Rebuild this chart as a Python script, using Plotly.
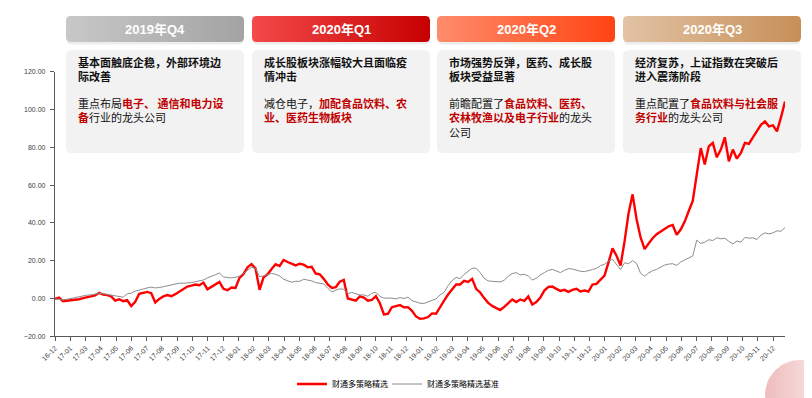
import numpy as np
import pandas as pd
import plotly.graph_objects as go

W, H = 812, 398          # browser window
P0 = 8                   # page body margin of the written html
FW, FH = W - P0, H - P0  # figure size so that the page does not overflow
START, END = "2016-12-01", "2020-12-31"

tick_labels = ["16-12", "17-01", "17-03", "17-04", "17-05", "17-06", "17-07", "17-08", "17-09", "17-10",
               "17-11", "17-12", "18-01", "18-02", "18-03", "18-04", "18-05", "18-06", "18-07", "18-08",
               "18-09", "18-10", "18-11", "18-12", "19-01", "19-02", "19-03", "19-04", "19-05", "19-06",
               "19-07", "19-08", "19-09", "19-10", "19-11", "19-12", "20-01", "20-02", "20-03", "20-04",
               "20-05", "20-06", "20-07", "20-08", "20-09", "20-10", "20-11", "20-12"]
y_ticks = [-20, 0, 20, 40, 60, 80, 100, 120]

series_names = ["财通多策略精选", "财通多策略精选基准"]

# cumulative return (%), evenly spaced in time
strategy = [
    -0.2, 0.5, -1.4, -1.2, -1.1, -0.7, -0.4, 0.2, 0.7, 1.2,
    1.6, 3.0, 2.1, 1.8, 1.1, -1.1, -0.4, -1.4, -0.9, -4.0,
    -1.8, 2.5, 3.2, 3.5, 2.8, -2.1, -0.2, 1.1, 1.8, 1.2,
    2.3, 3.5, 4.9, 6.3, 6.8, 7.4, 7.0, 8.4, 4.9, 6.3,
    7.4, 8.8, 5.1, 4.4, 5.8, 5.6, 10.9, 13.0, 16.5, 18.2,
    15.8, 4.6, 11.2, 12.8, 15.6, 18.1, 17.2, 20.4, 19.3, 18.4,
    17.5, 18.4, 17.9, 16.5, 16.8, 13.2, 12.8, 10.4,
    7.4, 5.6, 6.0, 8.9, 9.8, 0.0, -0.4, -1.1, 1.1, 0.5,
    -1.2, -0.7, 1.2, -2.5, -8.4, -8.1, -4.6, -4.2, -3.5, -4.7,
    -4.6, -6.5, -9.5, -10.7, -10.5, -9.8, -7.9, -8.1, -4.2, -1.1,
    2.1, 4.6, 7.4, 7.4, 9.3, 8.8, 10.4, 5.1, 3.2, 0.2,
    -2.3, -3.9, -5.1, -6.1, -4.4, -2.3, -0.5, -1.9, -0.5, -1.2,
    1.1, -3.2, -1.9, 0.5, 4.2, 6.1, 6.3, 5.1, 4.0, 4.6,
    3.5, 4.6, 5.1, 3.7,
    4.2, 3.7, 7.4, 7.7, 10.0, 12.1, 19.1, 26.5, 22.6, 17.4,
    30.2, 45.1, 55.1, 41.9, 32.3, 26.1, 29.1, 31.9, 34.0, 35.4,
    37.0, 38.2, 38.9, 33.7, 36.5, 40.7, 46.3, 51.6, 65.6, 79.6,
    70.9, 80.5, 82.3, 74.7, 78.8, 85.3, 72.6, 78.8, 74.0, 77.0,
    82.3, 81.8, 85.3, 88.4, 91.9, 93.7, 91.1, 91.6, 88.4, 95.8,
    104.2,
]
benchmark = [
    -0.2, -0.4, -0.7, -0.4, 0.0, 0.5, 1.1, 1.6, 1.8, 1.9,
    2.3, 2.8, 2.5, 2.1, 1.9, 1.6, 1.1, 0.7, 2.5, 2.8,
    3.9, 4.6, 5.1, 5.6, 6.0, 5.6, 5.8, 6.3, 6.7, 7.4,
    7.7, 8.1, 8.1, 8.2, 8.4, 8.9, 9.3, 9.8, 10.9, 11.6,
    12.6, 13.5, 11.4, 11.1, 10.9, 11.2, 11.9, 13.3, 15.1, 16.5,
    16.0, 11.6, 11.9, 12.8, 13.3, 12.8, 11.9, 10.2, 9.5, 8.6,
    9.1, 9.1, 10.2, 9.8, 9.3, 8.4, 8.1, 7.7,
    5.4, 3.5, 4.4, 5.1, 4.9, 2.6, 3.2, 2.6, 1.9, 1.9,
    1.2, 2.8, 3.3, 1.1, 0.2, 0.2, 0.2, -0.2, 0.5, 0.0,
    0.7, -1.1, -1.9, -2.5, -2.6, -1.8, -0.9, -0.2, 1.9, 3.2,
    6.8, 9.5, 11.2, 10.5, 12.8, 14.6, 16.0, 16.0, 13.7, 10.7,
    9.3, 9.1, 8.8, 8.8, 9.6, 11.8, 13.2, 13.7, 12.5, 12.8,
    11.9, 9.8, 10.7, 12.5, 13.7, 14.9, 15.4, 14.4, 13.7, 14.9,
    15.8, 15.6, 14.9, 14.4,
    14.2, 14.6, 15.3, 16.0, 17.4, 18.1, 19.8, 20.7, 18.2, 15.3,
    18.9, 18.4, 20.0, 18.6, 13.3, 11.8, 13.5, 14.7, 15.4, 16.5,
    17.7, 18.2, 18.4, 17.5, 19.3, 20.4, 21.4, 22.5, 30.9, 29.1,
    29.8, 31.1, 30.7, 32.1, 31.6, 31.9, 30.2, 28.9, 30.4, 29.8,
    32.3, 31.9, 32.1, 31.2, 33.5, 34.7, 34.2, 34.7, 35.8, 35.6,
    37.5,
]

quarters = ["2019年Q4", "2020年Q1", "2020年Q2", "2020年Q3"]
header_colors = [("#c8c8c8", "#a3a3a3"), ("#f44a4a", "#c70000"),
                 ("#ff8c6c", "#ff4412"), ("#e2c3a4", "#c78f57")]
titles = [
    ["基本面触底企稳，外部环境边", "际改善"],
    ["成长股板块涨幅较大且面临疫", "情冲击"],
    ["市场强势反弹，医药、成长股", "板块受益显著"],
    ["经济复苏，上证指数在突破后", "进入震荡阶段"],
]
notes = [
    [[("重点布局", 0), ("电子、 通信和电力设", 1)], [("备", 1), ("行业的龙头公司", 0)]],
    [[("减仓电子，", 0), ("加配食品饮料、农", 1)], [("业、医药生物板块", 1)]],
    [[("前瞻配置了", 0), ("食品饮料、医药、", 1)], [("农林牧渔以及电子行业", 1), ("的龙头", 0)], [("公司", 0)]],
    [[("重点配置了", 0), ("食品饮料与社会服", 1)], [("务行业", 1), ("的龙头公司", 0)]],
]

RED = "#c00000"
CJK = "Noto Sans CJK SC"


def pxx(x):
    return (x - P0) / FW


def pxy(y):
    return 1 - (y - P0) / FH


def rounded_poly(x0, y0, x1, y1, r, n=8):
    xs, ys = [], []
    corners = [(x1 - r, y0 + r, -90, 0), (x1 - r, y1 - r, 0, 90),
               (x0 + r, y1 - r, 90, 180), (x0 + r, y0 + r, 180, 270)]
    for cx, cy, a0, a1 in corners:
        for a in np.linspace(np.radians(a0), np.radians(a1), n):
            xs.append(cx + r * np.cos(a))
            ys.append(cy + r * np.sin(a))
    xs.append(xs[0])
    ys.append(ys[0])
    return xs, ys


def rounded_path(x0, y0, x1, y1, r):
    X0, X1, T, B = pxx(x0), pxx(x1), pxy(y0), pxy(y1)
    rx, ry = r / FW, r / FH
    return (f"M{X0+rx},{T} L{X1-rx},{T} Q{X1},{T} {X1},{T-ry} L{X1},{B+ry} "
            f"Q{X1},{B} {X1-rx},{B} L{X0+rx},{B} Q{X0},{B} {X0},{B+ry} "
            f"L{X0},{T-ry} Q{X0},{T} {X0+rx},{T} Z")


fig = go.Figure()

strategy_dates = pd.date_range(START, END, periods=len(strategy))
benchmark_dates = pd.date_range(START, END, periods=len(benchmark))

fig.add_trace(go.Scatter(x=strategy_dates, y=strategy, mode="lines", name=series_names[0],
                         line=dict(color="#ff0000", width=2.4), hoverinfo="skip", legendwidth=50))
fig.add_trace(go.Scatter(x=benchmark_dates, y=benchmark, mode="lines", name=series_names[1],
                         line=dict(color="#8c8c8c", width=1), hoverinfo="skip", legendwidth=80))

box_x0 = [66, 252, 437, 623]
box_w = 178
shapes = []
annotations = []
for i, q in enumerate(quarters):
    x0 = box_x0[i]
    x1 = x0 + box_w
    # soft shadow under the header
    shapes.append(dict(type="path", path=rounded_path(x0 + 1, 18, x1 - 1, 44.5, 4), xref="paper", yref="paper",
                       fillcolor="rgba(0,0,0,0.07)", line=dict(width=0), layer="below"))
    xs, ys = rounded_poly(x0, 16, x1, 42, 4)
    fig.add_trace(go.Scatter(x=xs, y=ys, xaxis="x2", yaxis="y2", mode="lines", fill="toself",
                             line=dict(width=0, color="rgba(0,0,0,0)"),
                             fillgradient=dict(type="horizontal",
                                               colorscale=[[0, header_colors[i][0]], [1, header_colors[i][1]]]),
                             showlegend=False, hoverinfo="skip"))
    shapes.append(dict(type="path", path=rounded_path(x0, 50, x1, 153, 6), xref="paper", yref="paper",
                       fillcolor="#f2f2f2", line=dict(width=0), layer="below"))
    annotations.append(dict(x=pxx((x0 + x1) / 2), y=pxy(29.5), xref="paper", yref="paper",
                            text=f"<b>{q}</b>", showarrow=False, xanchor="center", yanchor="middle",
                            font=dict(family="Liberation Sans, " + CJK, size=13, color="white")))
    tx = pxx(x0 + 10)
    title_html = "<br>".join(f"<b>{line}</b>" for line in titles[i])
    annotations.append(dict(x=tx, y=pxy(69), xref="paper", yref="paper", text=title_html, align="left",
                            showarrow=False, xanchor="left", yanchor="middle",
                            font=dict(family=CJK, size=11, color="#111111")))
    note_lines = ["".join(f"<span style='color:{RED}'><b>{t}</b></span>" if hl else t for t, hl in segs)
                  for segs in notes[i]]
    annotations.append(dict(x=tx, y=pxy(93), xref="paper", yref="paper", text="<br>".join(note_lines),
                            align="left", showarrow=False, xanchor="left", yanchor="top",
                            font=dict(family=CJK, size=11, color="#111111")))

for cx, cy, r in [(800, 395, 35)]:
    ang = np.linspace(0, 2 * np.pi, 60)
    fig.add_trace(go.Scatter(x=cx + r * np.cos(ang), y=cy + r * np.sin(ang), xaxis="x2", yaxis="y2",
                             mode="lines", fill="toself", line=dict(width=0, color="rgba(0,0,0,0)"),
                             fillgradient=dict(type="horizontal", colorscale=[[0, "#eebcbc"], [1, "#fbeeee"]]),
                             showlegend=False, hoverinfo="skip"))

span = pd.Timestamp(END) - pd.Timestamp(START)
tick_dates = [pd.Timestamp(START) + span * (0.9836 * i / (len(tick_labels) - 1)) for i in range(len(tick_labels))]

axis_col = "#595959"
fig.update_layout(
    width=FW, height=FH,
    margin=dict(l=0, r=0, t=0, b=0, pad=0, autoexpand=False),
    paper_bgcolor="white", plot_bgcolor="rgba(0,0,0,0)",
    font=dict(family="Liberation Sans, Arial, " + CJK, color="#333333"),
    xaxis=dict(domain=[pxx(55), pxx(785)], anchor="y", type="date", range=[START, END],
               tickmode="array", tickvals=tick_dates, ticktext=tick_labels, tickangle=-45,
               tickfont=dict(size=7, color="#404040"), showline=True, linecolor=axis_col, linewidth=1.3,
               ticks="outside", ticklen=4, tickcolor=axis_col, tickwidth=1, showgrid=False, zeroline=False,
               automargin=False),
    yaxis=dict(domain=[pxy(336.3), pxy(71.7)], anchor="x", range=[-20, 120],
               tickmode="array", tickvals=y_ticks, tickformat=".2f", ticksuffix="%",
               tickfont=dict(size=7, color="#404040"), showline=True, linecolor=axis_col, linewidth=1.3,
               ticks="outside", ticklen=4, tickcolor=axis_col, tickwidth=1, showgrid=False, zeroline=False,
               ticklabelstandoff=3, automargin=False),
    xaxis2=dict(domain=[0, 1], anchor="y2", range=[P0, W], visible=False, fixedrange=True, automargin=False),
    yaxis2=dict(domain=[0, 1], anchor="x2", range=[H, P0], visible=False, fixedrange=True, automargin=False),
    legend=dict(orientation="h", x=pxx(292), xanchor="left", y=pxy(384), yanchor="middle",
                font=dict(size=8, color="#000000", family=CJK), bgcolor="rgba(0,0,0,0)"),
    shapes=shapes,
    annotations=annotations,
    showlegend=True,
)

fig.write_html("out.html")
